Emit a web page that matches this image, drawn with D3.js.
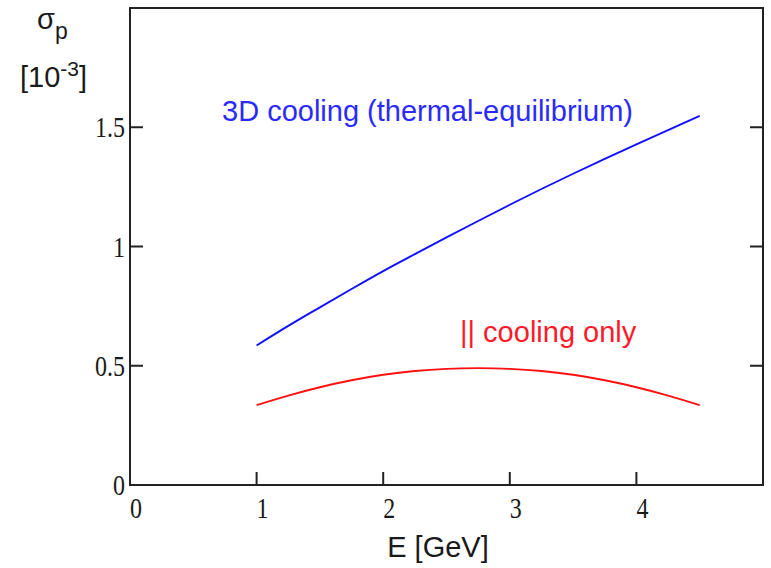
<!DOCTYPE html>
<html>
<head>
<meta charset="utf-8">
<script src="https://cdn.jsdelivr.net/npm/d3@7"></script>
<style>
	body { margin: 0; background: #fff; }
	svg { display: block; }
	.tick-label { font-family: "Liberation Serif", "DejaVu Serif", serif; font-size: 24px; fill: #1a1a1a; }
	.label { font-family: "Liberation Sans", Arial, sans-serif; font-size: 29px; }
</style>
</head>
<body>
<div id="chart"></div>
<script>
"use strict";

//---- Data
const energy = [1, 1.25, 1.5, 1.75, 2, 2.25, 2.5, 2.75, 3, 3.25, 3.5, 3.75, 4, 4.25, 4.5];
const sigma3D = [0.585, 0.667, 0.745, 0.822, 0.897, 0.968, 1.038, 1.107, 1.175, 1.241, 1.305, 1.367, 1.428, 1.488, 1.548];
const sigmaLong = [0.335, 0.375, 0.41, 0.439, 0.462, 0.478, 0.487, 0.49, 0.487, 0.478, 0.462, 0.439, 0.41, 0.375, 0.335];
const xTicks = [0, 1, 2, 3, 4];
const yTicks = [0, 0.5, 1, 1.5];

const chartWidth = 771, chartHeight = 568;
const plotLeft = 130, plotRight = 763, plotTop = 8, plotBottom = 485;

const svg = d3.select('#chart').append('svg')
	.attr('width', chartWidth)
	.attr('height', chartHeight);

const x = d3.scaleLinear().domain([0, 5]).range([plotLeft, plotRight]);
const y = d3.scaleLinear().domain([0, 2]).range([plotBottom, plotTop]);

//---- Frame and ticks
svg.append('rect')
	.attr('x', plotLeft).attr('y', plotTop)
	.attr('width', plotRight - plotLeft).attr('height', plotBottom - plotTop)
	.attr('fill', 'none').attr('stroke', '#222').attr('stroke-width', 2);

const tickLen = 13;
svg.selectAll('.xtick')
	.data(xTicks.filter(d => d > 0))
	.join('line')
	.attr('x1', d => x(d)).attr('x2', d => x(d))
	.attr('y1', plotBottom).attr('y2', plotBottom - tickLen)
	.attr('stroke', '#222').attr('stroke-width', 2);

svg.selectAll('.ytick')
	.data(yTicks.filter(d => d > 0))
	.join('line')
	.attr('x1', plotLeft).attr('x2', plotLeft + tickLen)
	.attr('y1', d => y(d)).attr('y2', d => y(d))
	.attr('stroke', '#222').attr('stroke-width', 2);

svg.selectAll('.ytick-r')
	.data(yTicks.filter(d => d > 0))
	.join('line')
	.attr('x1', plotRight).attr('x2', plotRight - tickLen)
	.attr('y1', d => y(d)).attr('y2', d => y(d))
	.attr('stroke', '#222').attr('stroke-width', 2);

// tick digits in the reference are drawn a little taller than wide
svg.selectAll('.xlab')
	.data(xTicks)
	.join('text')
	.classed('tick-label', true)
	.attr('transform', d => `translate(${x(d) + 6}, ${plotBottom + 33}) scale(1, 1.2)`)
	.attr('text-anchor', 'middle')
	.text(d => d);

svg.selectAll('.ylab')
	.data(yTicks)
	.join('text')
	.classed('tick-label', true)
	.attr('transform', d => `translate(${plotLeft - 5}, ${y(d) + 10}) scale(1, 1.2)`)
	.attr('text-anchor', 'end')
	.text(d => d);

//---- Curves
const line = (ys) => d3.line()
	.x((d, i) => x(energy[i]))
	.y(d => y(d))
	.curve(d3.curveMonotoneX)(ys);

svg.append('path')
	.attr('d', line(sigma3D))
	.attr('fill', 'none').attr('stroke', '#1010ff').attr('stroke-width', 1.9);

svg.append('path')
	.attr('d', line(sigmaLong))
	.attr('fill', 'none').attr('stroke', '#ff1010').attr('stroke-width', 1.9);

//---- Labels
svg.append('text')
	.classed('label', true)
	.attr('x', 222).attr('y', 121)
	.attr('fill', '#2a2aff')
	.text('3D cooling (thermal-equilibrium)');

svg.append('text')
	.classed('label', true)
	.attr('x', 460).attr('y', 342)
	.attr('fill', '#ff1a2a')
	.text('|| cooling only');

svg.append('text')
	.classed('label', true)
	.attr('x', 438).attr('y', 557)
	.attr('text-anchor', 'middle')
	.attr('fill', '#1a1a1a')
	.text('E [GeV]');

const sig = svg.append('text')
	.classed('label', true)
	.attr('x', 37).attr('y', 29)
	.attr('fill', '#1a1a1a');
sig.append('tspan').text('σ');
sig.append('tspan').attr('dy', 10).attr('font-size', 23).text('p');

const unit = svg.append('text')
	.classed('label', true)
	.attr('x', 20).attr('y', 87)
	.attr('font-size', 30)
	.attr('fill', '#1a1a1a');
unit.append('tspan').text('[10');
unit.append('tspan').attr('dy', -11).attr('font-size', 21).text('-3');
unit.append('tspan').attr('dy', 11).text(']');
</script>
</body>
</html>
